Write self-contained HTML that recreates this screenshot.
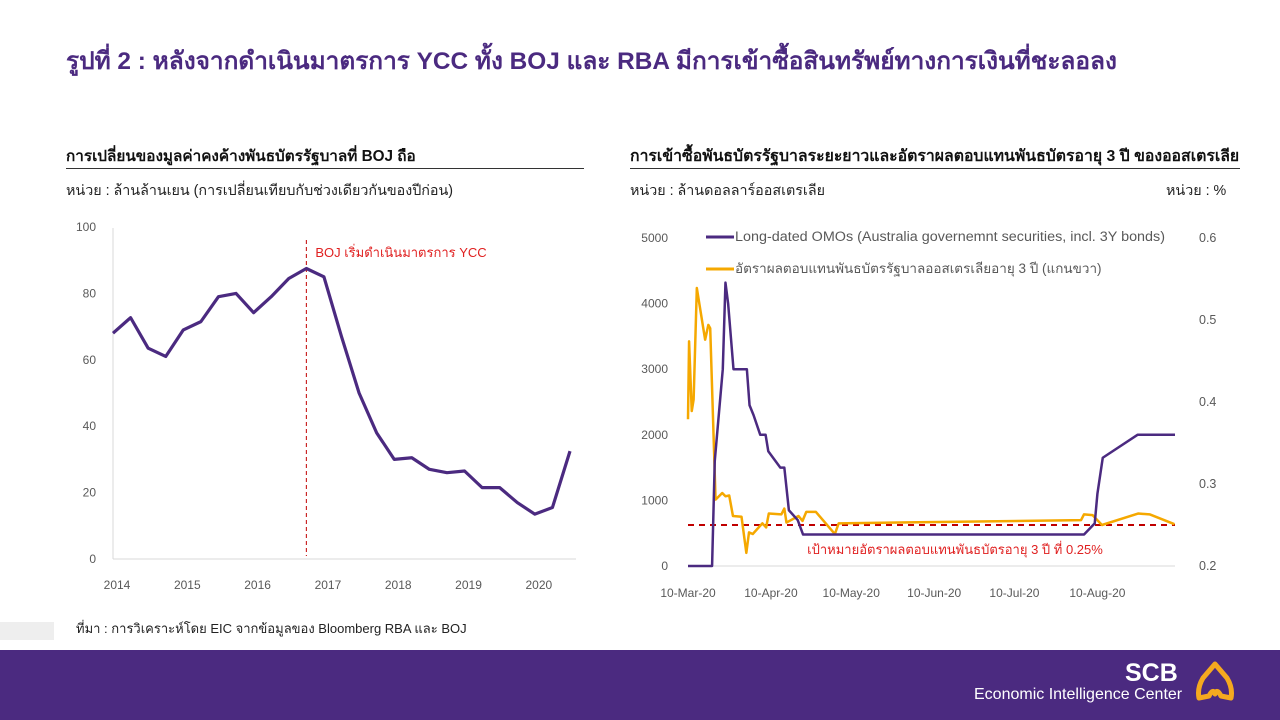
<!DOCTYPE html>
<html><head><meta charset="utf-8">
<style>
body{margin:0;width:1280px;height:720px;overflow:hidden;background:#fff;font-family:"Liberation Sans","Noto Sans CJK SC",sans-serif;position:relative}
.abs{position:absolute;white-space:nowrap}
</style></head><body>
<div class="abs" style="left:66px;top:41px;font-size:24.4px;font-weight:bold;color:#4b2a80">รูปที่ 2 : หลังจากดำเนินมาตรการ YCC ทั้ง BOJ และ RBA มีการเข้าซื้อสินทรัพย์ทางการเงินที่ชะลอลง</div>

<div class="abs" style="left:66px;top:143px;font-size:15.3px;font-weight:bold;color:#111">การเปลี่ยนของมูลค่าคงค้างพันธบัตรรัฐบาลที่ BOJ ถือ</div>
<div class="abs" style="left:66px;top:168px;width:518px;height:1px;background:#333"></div>
<div class="abs" style="left:66px;top:180px;font-size:14.3px;color:#222">หน่วย : ล้านล้านเยน (การเปลี่ยนเทียบกับช่วงเดียวกันของปีก่อน)</div>

<div class="abs" style="left:630px;top:143px;font-size:15.8px;font-weight:bold;color:#111">การเข้าซื้อพันธบัตรรัฐบาลระยะยาวและอัตราผลตอบแทนพันธบัตรอายุ 3 ปี ของออสเตรเลีย</div>
<div class="abs" style="left:630px;top:168px;width:610px;height:1px;background:#333"></div>
<div class="abs" style="left:630px;top:180px;font-size:14.3px;color:#222">หน่วย : ล้านดอลลาร์ออสเตรเลีย</div>
<div class="abs" style="left:1166px;top:180px;font-size:14.3px;color:#222">หน่วย : %</div>

<svg class="abs" style="left:0;top:0" width="1280" height="650">
<g id="left"></g>
<g id="right"></g>
</svg>

<div class="abs" style="left:0;top:622px;width:54px;height:18px;background:#eeeeee"></div>
<div class="abs" style="left:76px;top:618px;font-size:13px;color:#222">ที่มา : การวิเคราะห์โดย EIC จากข้อมูลของ Bloomberg RBA และ BOJ</div>

<div class="abs" style="left:0;top:650px;width:1280px;height:70px;background:#4b2a80"></div>
<div class="abs" style="left:1125px;top:659px;font-size:25px;font-weight:bold;color:#fff">SCB</div>
<div class="abs" style="left:974px;top:686px;font-size:16px;color:#fff">Economic Intelligence Center</div>
<svg class="abs" style="left:1195px;top:660px" width="42" height="44">
<path d="M20 4 L32 18 Q38 28 36 38 L26 36 Q22 28 20 34 Q18 28 14 36 L4 38 Q2 28 8 18 Z" fill="none" stroke="#f5a91f" stroke-width="5" stroke-linejoin="round"/>
</svg>

<script>
const NS="http://www.w3.org/2000/svg";
function mk(p,t,a){const e=document.createElementNS(NS,t);for(const k in a)e.setAttribute(k,a[k]);p.appendChild(e);return e;}

// LEFT chart data
const bojYears=["2014","2015","2016","2017","2018","2019","2020"];
const bojTicks=[0,20,40,60,80,100];
const bojValues=[68,72.7,63.5,61,69,71.5,79,80,74.2,79,84.5,87.5,85,67,50,38,30,30.5,27,26,26.5,21.5,21.5,17,13.5,15.5,32.5];
const bojYccIndex=11;

// RIGHT chart data
const dateLabels=["10-Mar-20","10-Apr-20","10-May-20","10-Jun-20","10-Jul-20","10-Aug-20"];
const dateLabelDays=[0,31,61,92,122,153];
const leftTicks=[0,1000,2000,3000,4000,5000];
const rightTicks=[0.2,0.3,0.4,0.5,0.6];
const omoDays=[0,9,10,13,14,15,17,22,23,24.5,27,29,30,34.5,36,37.7,41,43,148,152,153,155,168,182];
const omoValues=[0,0,1600,3000,4320,4000,3000,3000,2450,2300,2000,2000,1750,1500,1500,850,700,480,480,650,1100,1650,2000,2000];
const yieldDays=[0,0.4,1.4,2.1,3.3,6.4,7.6,8.3,10.3,12.8,14,15.4,16.8,20,21.8,22.8,24.2,27.8,29.2,30.2,34.9,36,36.8,41.3,42.8,44.2,47.8,54.9,56.3,146.9,148,151.2,154.7,168.2,172.5,181.8];
const yieldValues=[0.379,0.474,0.389,0.403,0.539,0.476,0.494,0.49,0.281,0.289,0.285,0.286,0.261,0.26,0.216,0.241,0.239,0.252,0.247,0.264,0.263,0.27,0.253,0.261,0.255,0.266,0.266,0.239,0.252,0.256,0.263,0.262,0.25,0.264,0.263,0.251];
const targetYield=0.25;

// Left chart
(function(){
 const g=document.getElementById('left');
 const x0=113,x1=570,y0=559,y1=227;
 const sx=i=>x0+i*(x1-x0)/(bojValues.length-1);
 const sy=v=>y0-(v/100)*(y0-y1);
 let e=mk(g,'line',{x1:x0,y1:228,x2:x0,y2:y0,stroke:'#d9d9d9'});
 
 e=mk(g,'line',{x1:x0,y1:y0,x2:576,y2:y0,stroke:'#d9d9d9'});
 
 bojTicks.forEach(t=>{const tx=mk(g,'text',{x:96,y:sy(t)+4,'text-anchor':'end','font-size':12,fill:'#595959'});tx.textContent=t;
  });
 bojYears.forEach((yr,i)=>{const tx=mk(g,'text',{x:sx(i*4)+4,y:589,'text-anchor':'middle','font-size':12,fill:'#595959'});tx.textContent=yr;
  });
 const xv=sx(bojYccIndex);
 e=mk(g,'line',{x1:xv,y1:240,x2:xv,y2:556,stroke:'#c00000','stroke-dasharray':'4,3','stroke-width':1});
 
 e=mk(g,'text',{x:xv+9,y:257,'font-size':13,fill:'#e02020'});e.textContent='BOJ เริ่มดำเนินมาตรการ YCC';
 
 e=mk(g,'polyline',{points:bojValues.map((v,i)=>sx(i)+','+sy(v)).join(' '),fill:'none',stroke:'#4b2a80','stroke-width':3.2,'stroke-linejoin':'round'});
 
})();

// Right chart
(function(){
 const g=document.getElementById('right');
 const x0=688,x1=1175,y0=566,y1=238,dmax=182;
 const sx=d=>x0+d*(x1-x0)/dmax;
 const syl=v=>y0-(v/5000)*(y0-y1);
 const syr=v=>y0-((v-0.2)/0.4)*(y0-y1);
 let e=mk(g,'line',{x1:x0,y1:y0,x2:x1,y2:y0,stroke:'#d9d9d9'});
 
 leftTicks.forEach(t=>{const tx=mk(g,'text',{x:668,y:syl(t)+4,'text-anchor':'end','font-size':12,fill:'#595959'});tx.textContent=t;
  });
 rightTicks.forEach(t=>{const tx=mk(g,'text',{x:1199,y:syr(t)+4,'font-size':12.5,fill:'#595959'});tx.textContent=t.toFixed(1);
  });
 dateLabels.forEach((l,i)=>{const tx=mk(g,'text',{x:sx(dateLabelDays[i]),y:597,'text-anchor':'middle','font-size':12,fill:'#595959'});tx.textContent=l;
  });
 e=mk(g,'line',{x1:x0,y1:syr(targetYield),x2:x1,y2:syr(targetYield),stroke:'#c00000','stroke-width':2,'stroke-dasharray':'6,5'});
 
 e=mk(g,'text',{x:955,y:554,'text-anchor':'middle','font-size':13,fill:'#e02020'});e.textContent='เป้าหมายอัตราผลตอบแทนพันธบัตรอายุ 3 ปี ที่ 0.25%';
 
 e=mk(g,'polyline',{points:yieldDays.map((d,i)=>sx(d)+','+syr(yieldValues[i])).join(' '),fill:'none',stroke:'#f5a800','stroke-width':2.5,'stroke-linejoin':'round'});
 
 e=mk(g,'polyline',{points:omoDays.map((d,i)=>sx(d)+','+syl(omoValues[i])).join(' '),fill:'none',stroke:'#4b2a80','stroke-width':2.5,'stroke-linejoin':'round'});
 
 // legend
 e=mk(g,'line',{x1:706,y1:237,x2:734,y2:237,stroke:'#4b2a80','stroke-width':3});
 
 e=mk(g,'text',{x:735,y:241,'font-size':13.5,fill:'#595959',textLength:430,lengthAdjust:'spacingAndGlyphs'});e.textContent='Long-dated OMOs (Australia governemnt securities, incl. 3Y bonds)';
 
 e=mk(g,'line',{x1:706,y1:269,x2:734,y2:269,stroke:'#f5a800','stroke-width':3});
 
 e=mk(g,'text',{x:735,y:273,'font-size':13.5,fill:'#595959'});e.textContent='อัตราผลตอบแทนพันธบัตรรัฐบาลออสเตรเลียอายุ 3 ปี (แกนขวา)';
 
})();
</script>
</body></html>
